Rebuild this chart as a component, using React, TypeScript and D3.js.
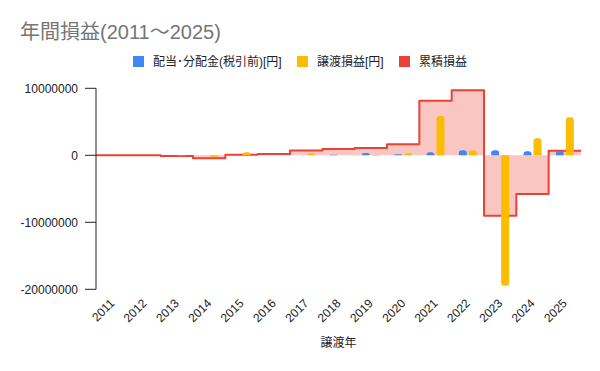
import * as d3 from "d3";

const years = ["2011", "2012", "2013", "2014", "2015", "2016", "2017", "2018", "2019", "2020", "2021", "2022", "2023", "2024", "2025"];
const dividends = [0, 0, 0, 0, 0, 0, 0, 100000, 350000, 150000, 450000, 750000, 750000, 600000, 650000];
const gains = [0, 0, -60000, -250000, 450000, 0, 300000, 0, -80000, 300000, 5870000, 750000, -19460000, 2540000, 5670000];
const cumulative = [0, 0, -100000, -450000, 100000, 200000, 720000, 930000, 1080000, 1640000, 8150000, 9700000, -9020000, -5780000, 690000];
const yTicks = [10000000, 0, -10000000, -20000000];

const W = 600;
const H = 371;
const LEFT = 96;
const RIGHT = 581;
const TOP = 88.3;
const BOTTOM = 289.3;

const BLUE = "#4285F4";
const YELLOW = "#FBBC04";
const RED = "#EA4335";
const FONT = "Arial, 'Liberation Sans', 'Noto Sans CJK JP', sans-serif";

const legend = [
  { label: "配当･分配金(税引前)[円]", color: BLUE, x: 133 },
  { label: "譲渡損益[円]", color: YELLOW, x: 297 },
  { label: "累積損益", color: RED, x: 399 },
];

// bar with the far end rounded
function barPath(x: number, w: number, y0: number, y1: number, r: number) {
  const h = Math.abs(y1 - y0);
  const rr = Math.min(r, h, w / 2);
  if (y1 <= y0) {
    return `M${x},${y0}V${y1 + rr}Q${x},${y1} ${x + rr},${y1}H${x + w - rr}Q${x + w},${y1} ${x + w},${y1 + rr}V${y0}Z`;
  }
  return `M${x},${y0}V${y1 - rr}Q${x},${y1} ${x + rr},${y1}H${x + w - rr}Q${x + w},${y1} ${x + w},${y1 - rr}V${y0}Z`;
}

export default function App() {
  const x = d3.scaleBand<string>().domain(years).range([LEFT, RIGHT]).padding(0);
  const y = d3.scaleLinear().domain([-20000000, 10000000]).range([BOTTOM, TOP]);
  const sub = d3.scaleBand<string>().domain(["div", "gain"]).range([-9, 9]).paddingInner(0.2);
  const bw = x.bandwidth();

  const steps: [number, number][] = years.flatMap((yr, i) => [
    [x(yr)!, cumulative[i]] as [number, number],
    [x(yr)! + bw, cumulative[i]] as [number, number],
  ]);
  const line = d3.line<[number, number]>().x((d) => d[0]).y((d) => y(d[1]));
  const area = d3
    .area<[number, number]>()
    .x((d) => d[0])
    .y0(y(0))
    .y1((d) => y(d[1]));

  return (
    <div style={{ position: "fixed", left: 0, top: 0 }}>
      <svg width={W} height={H} style={{ display: "block", background: "#fff" }} fontFamily={FONT}>
        <text x={20} y={39} fontSize={20} fill="#757575">
          年間損益(2011～2025)
        </text>

        {legend.map((l) => (
          <g key={l.label}>
            <rect x={l.x} y={56} width={11} height={11} fill={l.color} />
            <text x={l.x + 20} y={66} fontSize={12} fill="#222">
              {l.label}
            </text>
          </g>
        ))}

        <path d={area(steps) ?? undefined} fill={RED} opacity={0.3} />
        <path d={line(steps) ?? undefined} fill="none" stroke={RED} strokeWidth={2} strokeLinejoin="round" />

        {years.map((yr, i) => {
          const c = x(yr)! + bw / 2;
          return (
            <g key={yr}>
              {dividends[i] !== 0 && (
                <path d={barPath(c + sub("div")!, sub.bandwidth(), y(0), y(dividends[i]), 3)} fill={BLUE} />
              )}
              {gains[i] !== 0 && (
                <path d={barPath(c + sub("gain")!, sub.bandwidth(), y(0), y(gains[i]), 3)} fill={YELLOW} />
              )}
            </g>
          );
        })}

        <line x1={LEFT} x2={LEFT} y1={TOP} y2={BOTTOM} stroke="#222" strokeWidth={1} />
        {yTicks.map((t) => (
          <g key={t}>
            <line x1={85} x2={LEFT} y1={y(t)} y2={y(t)} stroke="#222" strokeWidth={1} />
            <text x={78} y={y(t)} dy="0.35em" textAnchor="end" fontSize={12} fill="#222">
              {t}
            </text>
          </g>
        ))}

        {years.map((yr) => (
          <text
            key={yr}
            transform={`translate(${x(yr)! + bw / 2 + 3},304) rotate(-45)`}
            textAnchor="end"
            fontSize={12}
            fill="#222"
          >
            {yr}
          </text>
        ))}

        <text x={(LEFT + RIGHT) / 2} y={347} textAnchor="middle" fontSize={12} fill="#222">
          譲渡年
        </text>
      </svg>
    </div>
  );
}
